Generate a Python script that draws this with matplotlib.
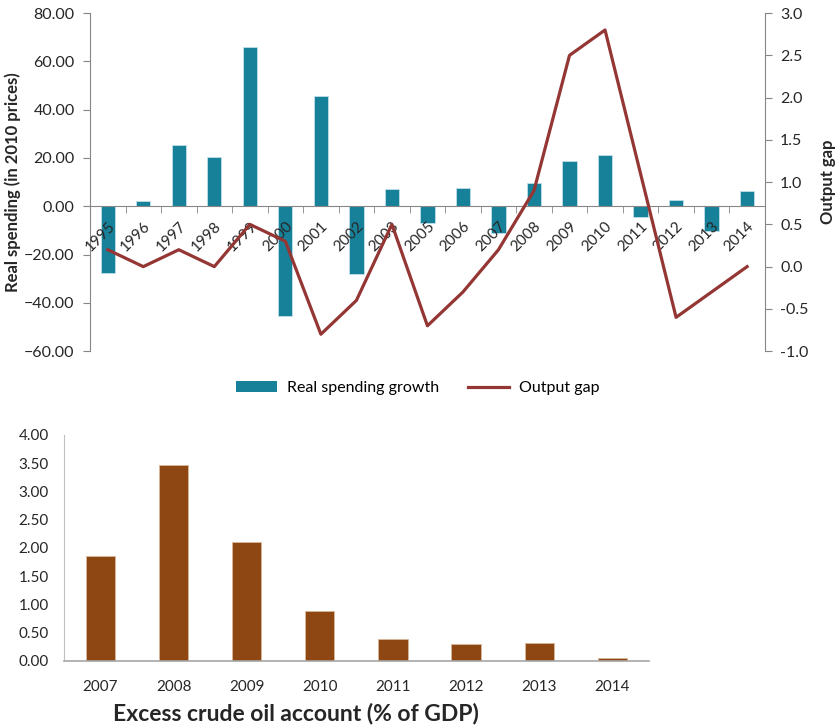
import matplotlib.pyplot as plt
import numpy as np
from matplotlib.patches import Patch
from matplotlib.lines import Line2D

plt.rcParams['font.family'] = ['Lato', 'DejaVu Sans']

# top chart data
years = ['1995', '1996', '1997', '1998', '1999', '2000', '2001', '2002', '2003',
         '2005', '2006', '2007', '2008', '2009', '2010', '2011', '2012', '2013', '2014']
spending_growth = [-27.6, 2.1, 25.4, 20.3, 65.9, -45.3, 45.7, -28.2, 7.2,
                   -7.0, 7.6, -11.0, 9.8, 18.9, 21.1, -4.3, 2.6, -10.4, 6.2]
output_gap = [0.2, 0.0, 0.2, 0.0, 0.5, 0.3, -0.8, -0.4, 0.5,
              -0.7, -0.3, 0.2, 0.9, 2.5, 2.8, 1.1, -0.6, -0.3, 0.0]

# bottom chart data
oil_years = ['2007', '2008', '2009', '2010', '2011', '2012', '2013', '2014']
oil_account = [1.86, 3.46, 2.10, 0.88, 0.38, 0.29, 0.31, 0.04]

teal = '#17819A'
red = '#943634'
brown = '#8E4713'
grey = '#868686'
txt = '#262626'

fig = plt.figure(figsize=(8.35, 7.27), dpi=100)

########################
# TOP CHART
ax = fig.add_axes([0.1078, 0.517, 0.8082, 0.465])
x = np.arange(len(years))
ax.bar(x, spending_growth, width=0.4, color=teal, edgecolor='#BFE0E8', linewidth=0.6, zorder=2)
ax.set_axisbelow(False)  # year labels sit over the bars
ax.set_xlim(-0.5, len(years) - 0.5)
ax.set_ylim(-60, 80)
ax.set_yticks(np.arange(-60, 81, 20))
ax.set_yticklabels([('%.2f' % v).replace('-', '\u2212') for v in np.arange(-60, 81, 20)],
                   fontsize=11.5, color=txt)
ax.set_ylabel('Real spending (in 2010 prices)', fontsize=12, fontweight='bold', color=txt,
              labelpad=2)

for s in ['top', 'right']:
    ax.spines[s].set_visible(False)
ax.spines['left'].set_color(grey)
ax.spines['bottom'].set_color(grey)
ax.spines['bottom'].set_position(('data', 0))
ax.tick_params(axis='y', colors=grey, length=5, labelcolor=txt, pad=6)

ax.set_xticks(x)
ax.set_xticklabels(years, rotation=45, ha='right', rotation_mode='anchor',
                   fontsize=11, color=txt)
ax.tick_params(axis='x', which='major', length=0, pad=9)
ax.set_xticks(np.arange(-0.5, len(years), 1), minor=True)
ax.tick_params(axis='x', which='minor', length=5, color=grey, direction='out')

ax2 = ax.twinx()
ax2.plot(x, output_gap, color=red, linewidth=2.3, zorder=3)
ax2.set_ylim(-1.0, 3.0)
ax2.set_yticks(np.arange(-1.0, 3.01, 0.5))
ax2.set_yticklabels(['%.1f' % v for v in np.arange(-1.0, 3.01, 0.5)], fontsize=11.5, color=txt)
ax2.set_ylabel('Output gap', fontsize=12, fontweight='bold', color=txt, labelpad=8)
for s in ['top', 'left', 'bottom']:
    ax2.spines[s].set_visible(False)
ax2.spines['right'].set_color(grey)
ax2.tick_params(axis='y', colors=grey, length=5, labelcolor=txt, pad=6)

handles = [Patch(facecolor=teal, edgecolor='none'),
           Line2D([0], [0], color=red, linewidth=2.3)]
fig.legend(handles, ['Real spending growth', 'Output gap'], loc='center',
           bbox_to_anchor=(0.5, 0.466), ncol=2, frameon=False, fontsize=11.5,
           handlelength=2.6, columnspacing=1.8, handletextpad=0.6)

########################
# BOTTOM CHART
bx = fig.add_axes([0.0766, 0.0912, 0.7004, 0.3105])
xb = np.arange(len(oil_years))
bx.bar(xb, oil_account, width=0.4, color=brown, edgecolor='#D9B89C', linewidth=0.6)
bx.set_xlim(-0.5, len(oil_years) - 0.5)
bx.set_ylim(0, 4)
bx.set_yticks(np.arange(0, 4.01, 0.5))
bx.set_yticklabels(['%.2f' % v for v in np.arange(0, 4.01, 0.5)], fontsize=11, color=txt)
bx.set_xticks(xb)
bx.set_xticklabels(oil_years, fontsize=11, color=txt)
bx.tick_params(axis='both', length=0)
bx.tick_params(axis='x', pad=14)
bx.tick_params(axis='y', pad=11)
for s in ['top', 'right']:
    bx.spines[s].set_visible(False)
bx.spines['left'].set_color('#BFBFBF')
bx.spines['bottom'].set_color('#A6A6A6')
bx.spines['bottom'].set_linewidth(1.2)
fig.text(296 / 835, 1 - 714 / 727, 'Excess crude oil account (% of GDP)', fontsize=16.5,
         fontweight='bold', color=txt, ha='center', va='center')

fig.savefig('out.png', dpi=100)
